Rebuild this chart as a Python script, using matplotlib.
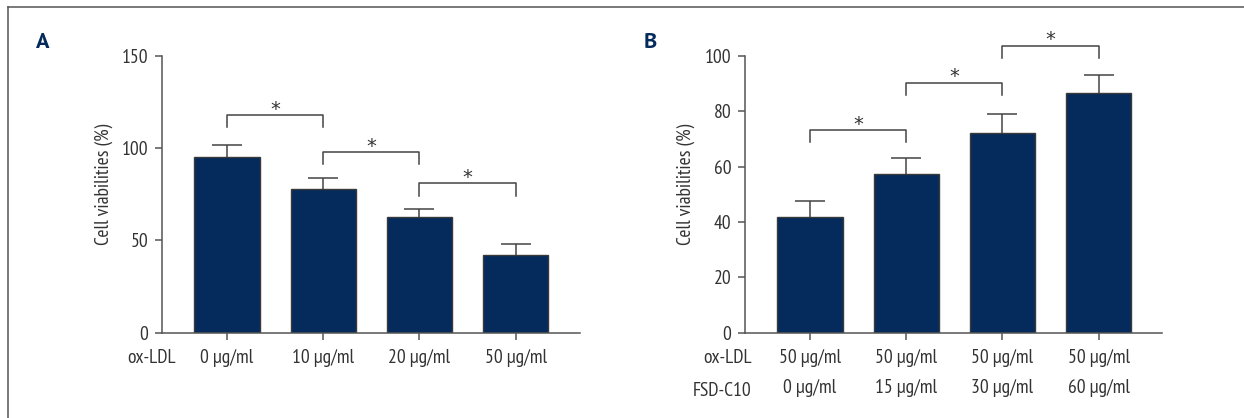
import numpy as np
import matplotlib
matplotlib.use('Agg')
import matplotlib.pyplot as plt
import matplotlib.transforms as mtransforms
from matplotlib.lines import Line2D

# ------------------------------- data --------------------------------
a_labels = ['0 µg/ml', '10 µg/ml', '20 µg/ml', '50 µg/ml']
a_means = [95.5, 78.1, 62.9, 41.9]
a_sd = [6.4, 5.9, 4.3, 6.0]
a_sig_top = [118.0, 98.1, 81.0]
a_sig_leg = [111.3, 91.3, 74.1]
a_sig_star = [122.5, 102.3, 85.7]

b_oxldl = ['50 µg/ml', '50 µg/ml', '50 µg/ml', '50 µg/ml']
b_fsd = ['0 µg/ml', '15 µg/ml', '30 µg/ml', '60 µg/ml']
b_means = [41.9, 57.2, 72.0, 86.7]
b_sd = [5.7, 5.8, 7.0, 6.4]
b_sig_top = [73.3, 90.1, 103.7]
b_sig_leg = [68.8, 85.9, 99.2]
b_sig_star = [76.3, 93.5, 106.9]

# ------------------------------- style --------------------------------
plt.rcParams['font.family'] = ['PT Sans Narrow', 'DejaVu Sans']
fs = 14
navy = '#042b5c'
grey = '#555555'
txt = '#333333'

fig = plt.figure(figsize=(12.44, 4.18), dpi=100)

# frame around the figure (only top and left visible)
fig.add_artist(Line2D([8.3 / 1244, 1.0], [1 - 7.3 / 418, 1 - 7.3 / 418], transform=fig.transFigure, color=grey, lw=1.1))
fig.add_artist(Line2D([8.3 / 1244, 8.3 / 1244], [0.0, 1 - 7.3 / 418], transform=fig.transFigure, color=grey, lw=1.1))


def panel(ax, means, sd, tops, legs, stars, ymax, yticks, xlim):
    x = np.arange(len(means))
    ax.bar(x, means, width=0.68, color=navy, edgecolor='#3a3a3a', linewidth=1.0, zorder=2)
    # lower half hidden behind the bars
    ax.errorbar(x, means, yerr=sd, fmt='none', ecolor='#444444',
                elinewidth=1.1, capsize=10.8, capthick=1.1, zorder=1)
    star_tr = mtransforms.offset_copy(ax.transData, fig=fig, x=0, y=-3, units='dots')
    for i in range(len(tops)):
        ax.plot([i, i, i + 1, i + 1], [legs[i], tops[i], tops[i], legs[i]],
                color='#444444', lw=1.1, clip_on=False)
        ax.text(i + 0.5, stars[i], '*', ha='center', va='center', fontsize=14, color=txt,
                family=['DejaVu Sans'], transform=star_tr)
    ax.set_ylim(0, ymax)
    ax.set_xlim(*xlim)
    ax.set_yticks(yticks)
    ax.set_xticks(x)
    for s in ['top', 'right']:
        ax.spines[s].set_visible(False)
    for s in ['left', 'bottom']:
        ax.spines[s].set_color(grey)
        ax.spines[s].set_linewidth(1.1)
    ax.tick_params(axis='both', direction='out', length=5, width=1.1, color=grey,
                   labelcolor=txt, labelsize=fs)
    ax.tick_params(axis='x', pad=7)
    ax.tick_params(axis='y', pad=5)
    ax.set_ylabel('Cell viabilities (%)', color=txt, fontsize=fs)


# ------------------------------- panel A --------------------------------
axA = fig.add_axes([0.1303, 0.2041, 0.3359, 0.6619])
panel(axA, a_means, a_sd, a_sig_top, a_sig_leg, a_sig_star, 150, [0, 50, 100, 150], (-0.675, 3.669))
axA.set_xticklabels(a_labels)
axA.yaxis.set_label_coords(-0.118, 0.537)
axA.text(0.033, -0.0925, 'ox-LDL', transform=axA.transAxes, ha='right', va='center', color=txt, fontsize=fs)

# ------------------------------- panel B --------------------------------
axB = fig.add_axes([0.5991, 0.2041, 0.3350, 0.6619])
panel(axB, b_means, b_sd, b_sig_top, b_sig_leg, b_sig_star, 100, [0, 20, 40, 60, 80, 100], (-0.673, 3.658))
axB.set_xticklabels([f'{o}\n{f}' for o, f in zip(b_oxldl, b_fsd)], linespacing=1.8)
axB.yaxis.set_label_coords(-0.121, 0.537)
axB.text(0.016, -0.0925, 'ox-LDL', transform=axB.transAxes, ha='right', va='center', color=txt, fontsize=fs)
axB.text(0.016, -0.2096, 'FSD-C10', transform=axB.transAxes, ha='right', va='center', color=txt, fontsize=fs)

# panel letters
fig.text(42.7 / 1244, 1 - 42.5 / 418, 'A', ha='center', va='center', fontsize=16,
         fontweight='bold', color=navy, family=['PT Sans', 'DejaVu Sans'])
fig.text(650.5 / 1244, 1 - 42.0 / 418, 'B', ha='center', va='center', fontsize=16,
         fontweight='bold', color=navy, family=['PT Sans', 'DejaVu Sans'])

fig.savefig('out.png', dpi=100)
